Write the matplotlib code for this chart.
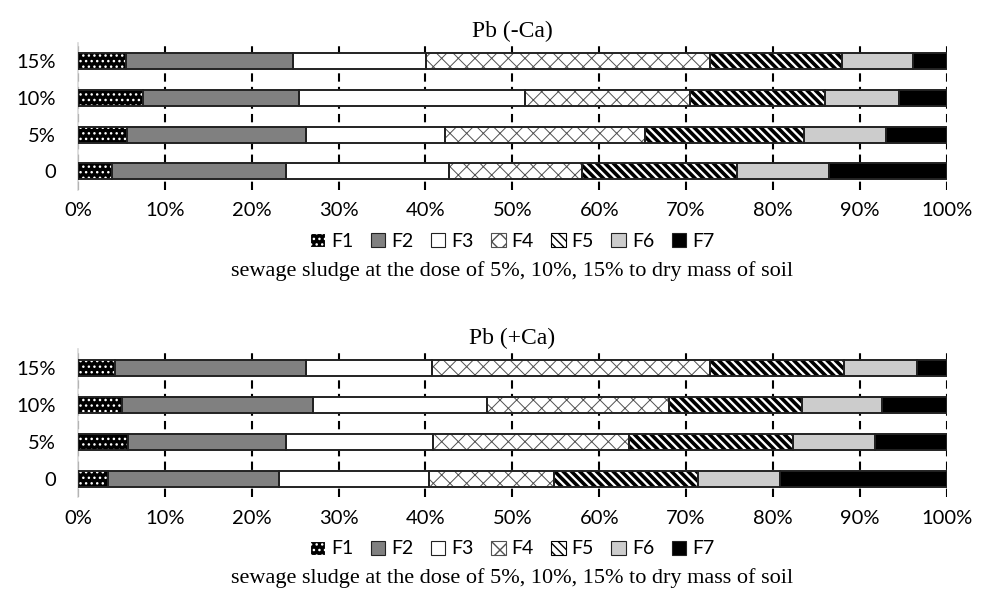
import numpy as np
import matplotlib
matplotlib.use('Agg')
import matplotlib.pyplot as plt
from matplotlib.patches import Patch

# doses on the y axis, bottom to top
doses = ['0', '5%', '10%', '15%']
fractions = ['F1', 'F2', 'F3', 'F4', 'F5', 'F6', 'F7']

# share of each fraction (%), one list per fraction, order as doses
pb_minus_ca = [
    [3.9, 5.6, 7.5, 5.5],
    [20.1, 20.6, 17.9, 19.2],
    [18.7, 16.1, 26.1, 15.4],
    [15.3, 23.0, 18.9, 32.7],
    [17.9, 18.3, 15.6, 15.2],
    [10.6, 9.4, 8.5, 8.1],
    [13.5, 7.0, 5.5, 3.9],
]
pb_plus_ca = [
    [3.5, 5.7, 5.1, 4.3],
    [19.6, 18.3, 21.9, 22.0],
    [17.3, 16.9, 20.1, 14.5],
    [14.4, 22.5, 20.9, 31.9],
    [16.6, 18.9, 15.3, 15.5],
    [9.4, 9.4, 9.2, 8.4],
    [19.2, 8.3, 7.5, 3.4],
]
x_ticks = list(range(0, 101, 10))

# face, hatch colour, hatch, hatch linewidth
styles = [
    ('black', 'white', '...', 1.0),
    ('#808080', None, '', 1.0),
    ('white', None, '', 1.0),
    ('white', '#505050', 'xx', 0.7),
    ('white', 'black', '\\\\\\\\', 2.6),
    ('#cccccc', None, '', 1.0),
    ('black', None, '', 1.0),
]
edge = '#222222'
sans = 'Lato'
serif = 'Liberation Serif'

fig = plt.figure(figsize=(9.86, 5.9), dpi=100)


def draw_panel(ax, data, title):
    y = np.arange(len(doses))
    left = np.zeros(len(doses))
    for vals, (face, hcol, hatch, hlw) in zip(data, styles):
        vals = np.array(vals)
        with plt.rc_context({'hatch.linewidth': hlw}):
            ax.barh(y, vals, left=left, height=0.43, color=face,
                    edgecolor=hcol if hcol else face, linewidth=0, hatch=hatch, zorder=2)
        ax.barh(y, vals, left=left, height=0.43, facecolor='none',
                edgecolor=edge, linewidth=1.4, zorder=3)
        left += vals
    ax.set_xlim(0, 100)
    ax.set_ylim(-0.5, len(doses) - 0.5)
    ax.set_yticks(y)
    ax.set_yticklabels(doses, fontfamily=sans, fontsize=14.5)
    ax.set_xticks(x_ticks)
    ax.set_xticklabels([str(t) + '%' for t in x_ticks], fontfamily=sans, fontsize=14.5)
    ax.tick_params(axis='both', length=0)
    ax.tick_params(axis='x', pad=9)
    ax.tick_params(axis='y', pad=16)
    ax.set_axisbelow(True)
    ax.grid(axis='x', color='black', linewidth=1.5, linestyle=(0, (4, 2.5)))
    for s in ['top', 'right', 'bottom']:
        ax.spines[s].set_visible(False)
    ax.spines['left'].set_color('#d9d9d9')
    ax.spines['left'].set_linewidth(1.2)
    ax.set_title(title, fontfamily=serif, fontsize=17, pad=4)
    ax.set_xlabel('sewage sludge at the dose of 5%, 10%, 15% to dry mass of soil',
                  fontfamily=serif, fontsize=16, labelpad=30)

    handles = []
    for name, (face, hcol, hatch, hlw) in zip(fractions, styles):
        handles.append(Patch(facecolor=face, edgecolor=hcol if hcol else edge,
                             hatch=hatch, linewidth=0.8, label=name))
    ax.legend(handles=handles, loc='center', bbox_to_anchor=(0.5, -0.35), ncol=7,
              frameon=False, prop={'family': sans, 'size': 14},
              handlelength=0.75, handleheight=0.75, handletextpad=0.3, columnspacing=0.9)


ax1 = fig.add_axes([0.0791, 0.6785, 0.881, 0.2486])
draw_panel(ax1, pb_minus_ca, 'Pb (-Ca)')
ax2 = fig.add_axes([0.0791, 0.1573, 0.881, 0.2508])
draw_panel(ax2, pb_plus_ca, 'Pb (+Ca)')

plt.savefig('out.png', dpi=100)
